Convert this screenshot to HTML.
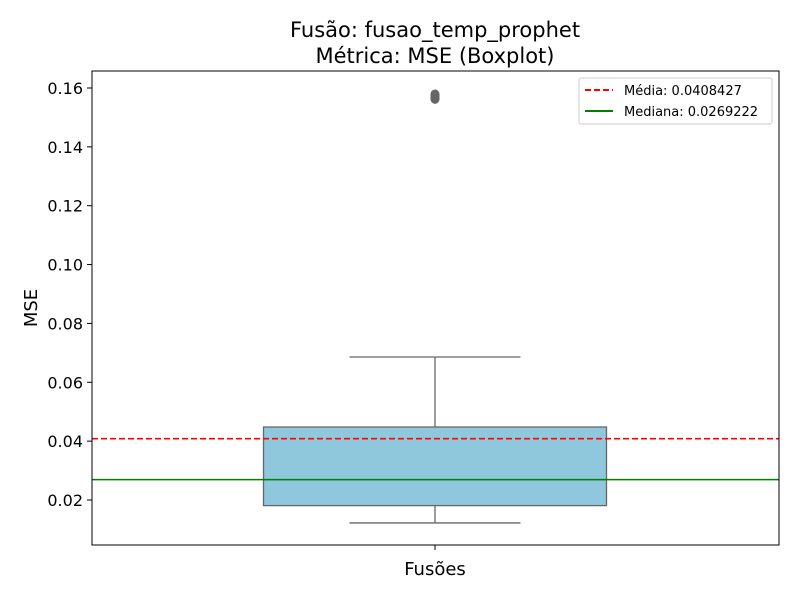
<!DOCTYPE html>
<html><head><meta charset="utf-8"><style>
body{margin:0;background:#fff;font-family:"Liberation Sans","DejaVu Sans",sans-serif;}
</style></head><body>
<svg id="chart" width="800" height="600" font-family="DejaVu Sans, Liberation Sans, sans-serif">
<text x="435" y="37" font-size="21" text-anchor="middle">Fusão: fusao_temp_prophet</text>
<text x="435" y="63" font-size="21" text-anchor="middle">Métrica: MSE (Boxplot)</text>
<g id="plot"></g>
<rect x="92" y="71" width="687" height="474" fill="none" stroke="#000" stroke-width="1"/>
<text x="37" y="308" font-size="18" text-anchor="middle" transform="rotate(-90 37 308)">MSE</text>
<text x="435" y="575" font-size="18" text-anchor="middle">Fusões</text>
<g>
<rect x="579" y="78" width="193" height="46" fill="#fff" stroke="#ccc" rx="2"/>
<line x1="585" y1="90" x2="613" y2="90" stroke="red" stroke-width="2" stroke-dasharray="6,3"/>
<text x="624" y="95" font-size="13">Média: 0.0408427</text>
<line x1="585" y1="111" x2="613" y2="111" stroke="green" stroke-width="2"/>
<text x="624" y="116" font-size="13">Mediana: 0.0269222</text>
</g>
</svg>
<script>
const ticks=[0.02,0.04,0.06,0.08,0.10,0.12,0.14,0.16];
const tickLabels=["0.02","0.04","0.06","0.08","0.10","0.12","0.14","0.16"];
const boxStats=[0.0122,0.0181,0.0269222,0.0448,0.0686];
const outliers=[0.1563,0.1566,0.1569,0.1572,0.1575,0.1578];
const meanVal=[0.0408427];
const medianVal=[0.0269222];
const NS="http://www.w3.org/2000/svg";
const g=document.getElementById('plot');
const y0=0.00471,y1=0.16577,plotTop=71,plotBot=545;
function y(v){return plotBot-(v-y0)/(y1-y0)*(plotBot-plotTop);}
function mk(t,a){const e=document.createElementNS(NS,t);for(const k in a)e.setAttribute(k,a[k]);g.appendChild(e);return e;}
ticks.forEach((t,i)=>{
 const l=mk('line',{x1:87,x2:92,y1:y(t),y2:y(t),stroke:'#000'});
 
 
 const tx=mk('text',{x:83,y:y(t)+6,'font-size':16,'text-anchor':'end'});tx.textContent=tickLabels[i];
 
 
});
const xt=mk('line',{x1:435,x2:435,y1:545,y2:550,stroke:'#000'});


const cx=435,bw=343,cw=171;
const [wl,q1,md,q3,wh]=boxStats;
let e=mk('line',{x1:cx,x2:cx,y1:y(q3),y2:y(wh),stroke:'#666','stroke-width':1.3});


e=mk('line',{x1:cx,x2:cx,y1:y(q1),y2:y(wl),stroke:'#666','stroke-width':1.3});


e=mk('line',{x1:cx-cw/2,x2:cx+cw/2,y1:y(wh),y2:y(wh),stroke:'#666','stroke-width':1.3});


e=mk('line',{x1:cx-cw/2,x2:cx+cw/2,y1:y(wl),y2:y(wl),stroke:'#666','stroke-width':1.3});


e=mk('rect',{x:cx-bw/2,y:y(q3),width:bw,height:y(q1)-y(q3),fill:'#8fc8dd',stroke:'#666','stroke-width':1.3});


e=mk('line',{x1:cx-bw/2,x2:cx+bw/2,y1:y(md),y2:y(md),stroke:'#666','stroke-width':1.3});


outliers.forEach(v=>{
 const c=mk('ellipse',{cx:cx,cy:y(v),rx:4.5,ry:5,fill:'#666'});
 
 
});
e=mk('line',{x1:92,x2:779,y1:y(meanVal[0]),y2:y(meanVal[0]),stroke:'red','stroke-width':1.6,'stroke-dasharray':'6,3'});


e=mk('line',{x1:92,x2:779,y1:y(medianVal[0]),y2:y(medianVal[0]),stroke:'green','stroke-width':1.6});


</script>
</body></html>
